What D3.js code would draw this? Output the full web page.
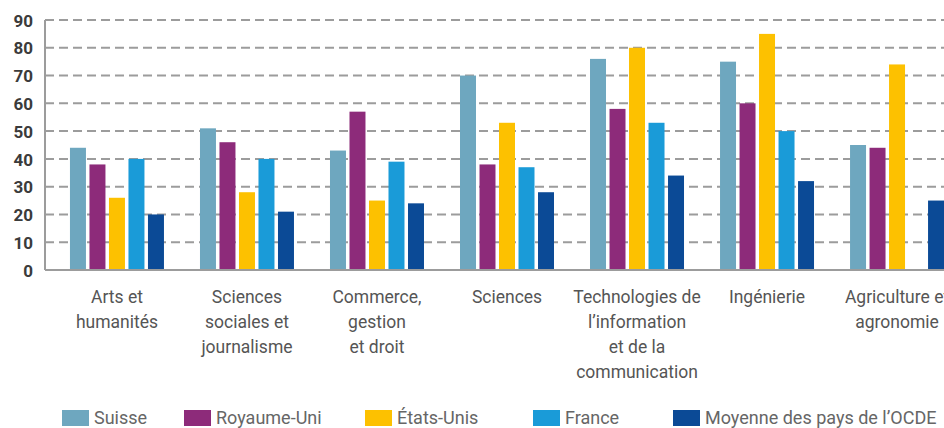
<!DOCTYPE html>
<html>
<head>
<meta charset="utf-8">
<script src="https://cdn.jsdelivr.net/npm/d3@7"></script>
<style>
  body { margin: 0; background: #fff; }
  svg { display: block; font-family: Roboto, "Noto Sans", sans-serif; }
</style>
</head>
<body>
<div id="chart"></div>
<script>
// fields of study (line breaks as in the original)
const categories = [
  "Arts et\nhumanités",
  "Sciences\nsociales et\njournalisme",
  "Commerce,\ngestion\net droit",
  "Sciences",
  "Technologies de\nl’information\net de la\ncommunication",
  "Ingénierie",
  "Agriculture et\nagronomie"
];
const series = ["Suisse", "Royaume-Uni", "États-Unis", "France", "Moyenne des pays de l’OCDE"];
const suisse    = [44, 51, 43, 70, 76, 75, 45];
const royaumeUni = [38, 46, 57, 38, 58, 60, 44];
const etatsUnis = [26, 28, 25, 53, 80, 85, 74];
const france    = [40, 40, 39, 37, 53, 50, null];
const ocde      = [20, 21, 24, 28, 34, 32, 25];
const yTicks = [0, 10, 20, 30, 40, 50, 60, 70, 80, 90];

const values = [suisse, royaumeUni, etatsUnis, france, ocde];
const colors = ["#6ea7bf", "#8d2b7a", "#fdc100", "#1a9bd8", "#0b4a96"];

const W = 944, H = 428;
const margin = { top: 20, left: 45, bottom: 270 };

const svg = d3.select("#chart").append("svg")
  .attr("width", W).attr("height", H);

const y = d3.scaleLinear().domain([0, 90]).range([margin.bottom, margin.top]);

const x0 = d3.scaleBand().domain(categories)
  .range([margin.left, 969])
  .paddingInner(0.277).paddingOuter(0.192);
const x1 = d3.scaleBand().domain(series)
  .range([0, x0.bandwidth()])
  .paddingInner(0.18);

// dashed gridlines
svg.append("g")
  .selectAll("line")
  .data(yTicks.filter(d => d > 0))
  .join("line")
  .attr("x1", margin.left).attr("x2", W)
  .attr("y1", d => y(d)).attr("y2", d => y(d))
  .attr("stroke", "#9c9c9c")
  .attr("stroke-width", 2)
  .attr("stroke-dasharray", "9,5");

// y axis labels
const yAxis = svg.append("g")
  .attr("transform", `translate(${margin.left},0)`)
  .call(d3.axisLeft(y).tickValues(yTicks).tickSize(0).tickPadding(12));
yAxis.select(".domain").remove();
yAxis.selectAll("text")
  .attr("font-family", "Roboto, sans-serif")
  .attr("font-size", 17)
  .attr("font-weight", 700)
  .attr("fill", "#3b3b3b")
  .attr("dy", "0.36em");

// bars
const groups = svg.append("g")
  .selectAll("g")
  .data(categories)
  .join("g")
  .attr("transform", d => `translate(${x0(d)},0)`);

groups.selectAll("rect")
  .data((c, i) => series.map((s, j) => ({ s, v: values[j][i], color: colors[j] })).filter(d => d.v != null))
  .join("rect")
  .attr("x", d => x1(d.s))
  .attr("width", x1.bandwidth())
  .attr("y", d => y(d.v))
  .attr("height", d => y(0) - y(d.v))
  .attr("fill", d => d.color);

// axis lines
svg.append("line")
  .attr("x1", margin.left).attr("x2", margin.left)
  .attr("y1", y(90)).attr("y2", y(0))
  .attr("stroke", "#9c9c9c").attr("stroke-width", 2);
svg.append("line")
  .attr("x1", margin.left).attr("x2", W)
  .attr("y1", y(0)).attr("y2", y(0))
  .attr("stroke", "#9c9c9c").attr("stroke-width", 2);

// category labels
const labels = svg.append("g")
  .selectAll("text")
  .data(categories)
  .join("text")
  .attr("x", d => x0(d) + x0.bandwidth() / 2)
  .attr("y", 303)
  .attr("text-anchor", "middle")
  .attr("font-size", 17.5)
  .attr("fill", "#555");
labels.selectAll("tspan")
  .data(d => d.split("\n"))
  .join("tspan")
  .attr("x", function () { return this.parentNode.getAttribute("x"); })
  .attr("dy", (d, i) => i === 0 ? 0 : 25)
  .text(d => d);

// legend
const legendX = [62, 184, 365, 533, 673];
const legend = svg.append("g")
  .selectAll("g")
  .data(series)
  .join("g")
  .attr("transform", (d, i) => `translate(${legendX[i]},410)`);
legend.append("rect")
  .attr("width", 27).attr("height", 16)
  .attr("fill", (d, i) => colors[i]);
legend.append("text")
  .attr("x", 32).attr("y", 14)
  .attr("font-size", 18)
  .attr("fill", "#666")
  .text(d => d);
</script>
</body>
</html>
